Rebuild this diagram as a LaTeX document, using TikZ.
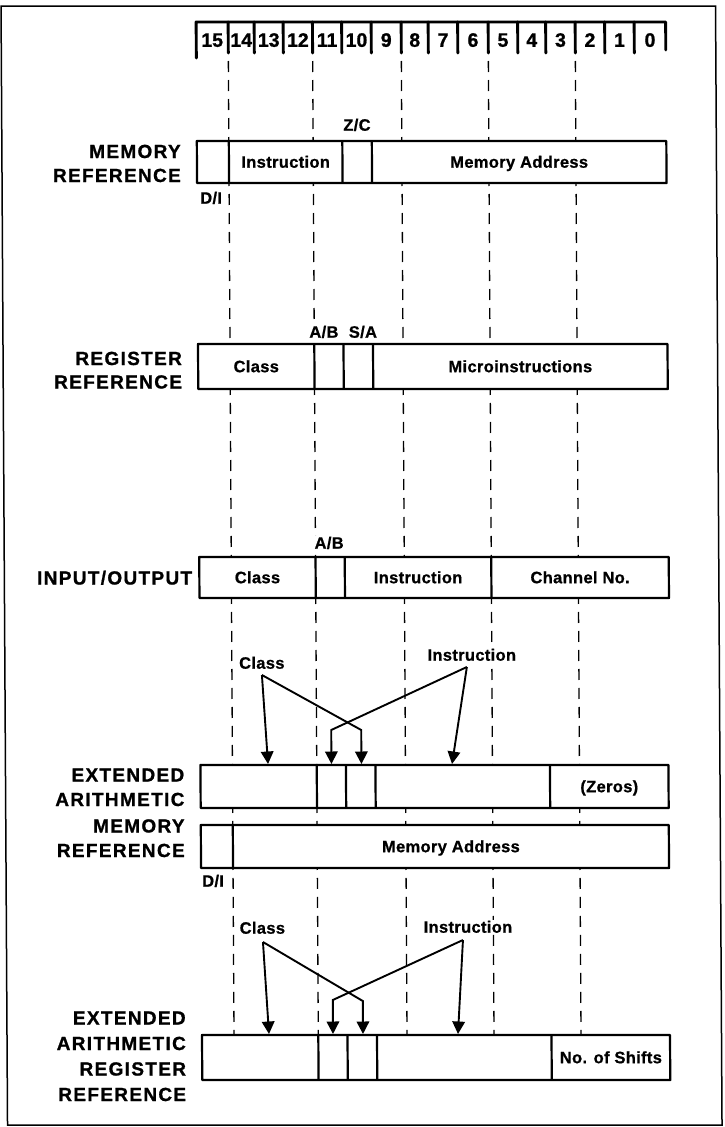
\documentclass[tikz,border=0pt]{standalone}
\usepackage{fontspec}
\setmainfont{Liberation Sans}[BoldFeatures={FakeBold=1}]
\newfontfamily\labfont[LetterSpace=7,BoldFeatures={FakeBold=1}]{Liberation Sans}
\newfontfamily\innfont[LetterSpace=2,BoldFeatures={FakeBold=0.8}]{Liberation Sans}
\usetikzlibrary{arrows.meta}
\newcommand\cellrect[4]{\draw[cellbox] (#1,#2) -- (#3,#2) -- (#3,#4) -- (#1,#4) -- cycle;}
\newcommand\celldiv[3]{\draw[cellline] (#1,#2) -- (#1,#3);}
\begin{document}
\begin{tikzpicture}[x=1pt,y=-1pt,
  lab/.style={font=\labfont\bfseries\fontsize{19}{21}\selectfont, anchor=east, inner sep=0pt, text height=13pt, text depth=0pt},
  inn/.style={font=\innfont\bfseries\fontsize{16.5}{18}\selectfont, inner sep=0pt, text height=11.4pt, text depth=0pt},
  tag/.style={inn, fill=white, inner sep=1pt},
  dig/.style={font=\bfseries\fontsize{19.5}{21}\selectfont, inner sep=0pt, text height=13.6pt, text depth=0pt},
  cellbox/.style={draw, line width=2.2pt, fill=white, line join=round},
  cellline/.style={line width=2.2pt},
  guide/.style={line width=1.3pt, dash pattern=on 11pt off 8pt},
  ptr/.style={line width=1.9pt, -{Triangle[length=12.5pt,width=12.5pt]}},
  ruler/.style={line width=2.9pt, line cap=round, line join=round},
  frame/.style={line width=1.5pt}]
\useasboundingbox (0,0) rectangle (724,1127);
\begin{scope}[xslant=-0.0058]
% outer frame
\draw[frame] (1,6) -- (715.5,6) -- (715.5,1125) -- (1,1125) -- cycle;
% bit ruler
\draw[ruler] (196,58) -- (196,22) -- (665.5,22) -- (665.5,50);
\foreach \x in {228,254,283,312.3,341.5,371,401,428,457.5,488,517.5,545.5,575,604.5,634}
  \draw[ruler] (\x,22) -- (\x,53);
\foreach \n/\x in {15/212,14/241,13/268.5,12/297.65,11/326.9,10/356.25,9/386,8/414.5,7/442.75,6/472.75,5/502.75,4/531.5,3/560.25,2/589.75,1/619.25,0/649.75}
  \node[dig] (bit\n) at (\x,40) {\n};
% dashed guides
\foreach \x in {228,312.3,401,488,575}
  \draw[guide] (\x,61) -- (\x,1034);
% MEMORY REFERENCE
\cellrect{196}{141}{665.5}{183}
\celldiv{228}{141}{183}\celldiv{341.5}{141}{183}\celldiv{371}{141}{183}
\node[lab] (mr1) at (180,151.5) {MEMORY};
\node[lab] (mr2) at (180,175.5) {REFERENCE};
\node[inn] (mrins) at (284.75,162) {Instruction};
\node[inn] (mrma) at (518.25,162) {Memory Address};
\node[tag] (mrzc) at (356.25,125) {Z/C};
\node[tag] (mrdi) at (210,198) {D/I};
% REGISTER REFERENCE
\cellrect{196}{344}{665.5}{389}
\celldiv{312.3}{344}{389}\celldiv{341.5}{344}{389}\celldiv{371}{344}{389}
\node[lab] (rr1) at (180,358.5) {REGISTER};
\node[lab] (rr2) at (180,382) {REFERENCE};
\node[inn] (rrcl) at (254.15,366.5) {Class};
\node[inn] (rrmi) at (518.25,366.5) {Microinstructions};
\node[tag] (rrab) at (322,332) {A/B};
\node[tag] (rrsa) at (361,332) {S/A};
% INPUT/OUTPUT
\cellrect{196}{557}{665.5}{598}
\celldiv{312.3}{557}{598}\celldiv{341.5}{557}{598}\celldiv{488}{557}{598}
\node[lab] (io1) at (189,578) {INPUT/OUTPUT};
\node[inn] (iocl) at (254.15,577.5) {Class};
\node[inn] (ioin) at (414.75,577.5) {Instruction};
\node[inn] (ioch) at (576.75,577.5) {Channel No.};
\node[tag] (ioab) at (326,543) {A/B};
% EXTENDED ARITHMETIC MEMORY REFERENCE
\cellrect{196}{765}{664}{808}
\celldiv{312.3}{765}{808}\celldiv{341.5}{765}{808}\celldiv{371}{765}{808}\celldiv{545.5}{765}{808}
\cellrect{196}{825}{664}{868}
\celldiv{228}{825}{868}
\node[lab] (em1) at (180,775) {EXTENDED};
\node[lab] (em2) at (180,799.5) {ARITHMETIC};
\node[lab] (em3) at (180,826) {MEMORY};
\node[lab] (em4) at (180,850.5) {REFERENCE};
\node[inn] (emze) at (604.75,786.5) {(Zeros)};
\node[inn] (emma) at (446,846.5) {Memory Address};
\node[tag] (emdi) at (208,881) {D/I};
\node[tag] (emcls) at (258,663) {Class};
\node[tag] (emins) at (468,655) {Instruction};
\coordinate (emclsapex) at (258,675);
\coordinate (emclstipL) at (263.6,764);
\coordinate (emclsbend) at (357,730);
\coordinate (emclstipR) at (357,764);
\coordinate (eminsapex) at (463,667);
\coordinate (eminstipR) at (447.6,764);
\coordinate (eminsbend) at (327,730);
\coordinate (eminstipL) at (327,764);
\draw[ptr] (emclsapex) -- (emclstipL);
\draw[ptr] (emclsapex) -- (emclsbend) -- (emclstipR);
\draw[ptr] (eminsapex) -- (eminstipR);
\draw[ptr] (eminsapex) -- (eminsbend) -- (eminstipL);
% EXTENDED ARITHMETIC REGISTER REFERENCE
\cellrect{196}{1035}{664}{1080}
\celldiv{312.3}{1035}{1080}\celldiv{341.5}{1035}{1080}\celldiv{371}{1035}{1080}\celldiv{545.5}{1035}{1080}
\node[lab] (er1) at (180,1018) {EXTENDED};
\node[lab] (er2) at (180,1043.5) {ARITHMETIC};
\node[lab] (er3) at (180,1069) {REGISTER};
\node[lab] (er4) at (180,1094.5) {REFERENCE};
\node[inn] (ersh) at (604.75,1057.5) {No. of Shifts};
\node[tag] (ercls) at (257,928) {Class};
\node[tag] (erins) at (462.6,927) {Instruction};
\coordinate (erclsapex) at (257.5,942);
\coordinate (erclstipL) at (263,1034);
\coordinate (erclsbend) at (357,1001);
\coordinate (erclstipR) at (357,1034);
\coordinate (erinsapex) at (457.5,940);
\coordinate (erinstipR) at (452,1034);
\coordinate (erinsbend) at (327,1000);
\coordinate (erinstipL) at (327,1034);
\draw[ptr] (erclsapex) -- (erclstipL);
\draw[ptr] (erclsapex) -- (erclsbend) -- (erclstipR);
\draw[ptr] (erinsapex) -- (erinstipR);
\draw[ptr] (erinsapex) -- (erinsbend) -- (erinstipL);
\end{scope}
\end{tikzpicture}
\end{document}
